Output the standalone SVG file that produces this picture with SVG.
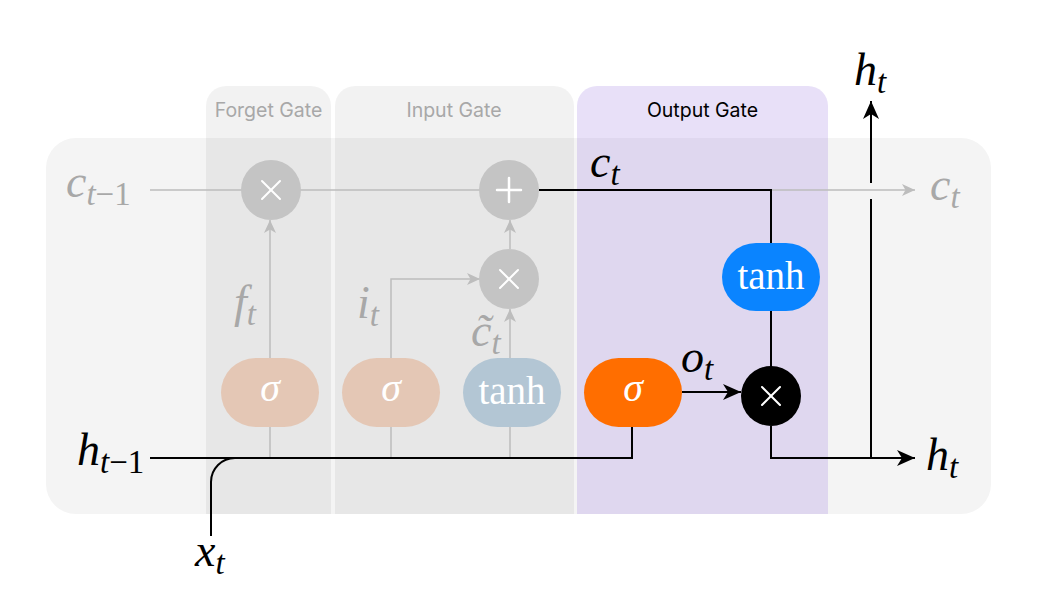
<svg xmlns="http://www.w3.org/2000/svg" width="1046" height="601" viewBox="0 0 1046 601">
<defs>
<style>
.hdr{font-family:Inter,"Liberation Sans",sans-serif;font-size:19.5px;text-anchor:middle}
.m{font-family:"Liberation Serif",serif;font-style:italic;font-size:46px}
.sub{font-size:33px}
.up{font-style:normal}
.g{fill:#a8a8a8}
.k{fill:#000}
.gl{stroke:#bdbdbd;stroke-width:1.5;fill:none}
.bl{stroke:#000;stroke-width:2;fill:none}
.op{fill:#c4c4c4}
.tanh{font-family:"Liberation Serif",serif;font-size:39px;fill:#fff;text-anchor:middle}
.sig{font-family:"Liberation Serif",serif;font-style:italic;font-size:40px;fill:#fff;text-anchor:middle}
.sym{stroke:#fff;stroke-width:2;stroke-linecap:round}
.gate{fill:#000;fill-opacity:0.05}
</style>
<marker id="ag" viewBox="0 0 13 13" refX="13" refY="6.5" markerWidth="13" markerHeight="13" markerUnits="userSpaceOnUse" orient="auto">
<path d="M0,0.5 L13,6.5 L0,12.5 L3.5,6.5 Z" fill="#bdbdbd"/>
</marker>
<marker id="ab" viewBox="0 0 18 18" refX="18" refY="9" markerWidth="18" markerHeight="18" markerUnits="userSpaceOnUse" orient="auto">
<path d="M0,1 L18,9 L0,17 L5,9 Z" fill="#000"/>
</marker>
<g id="times"><line class="sym" x1="-9" y1="-9" x2="9" y2="9"/><line class="sym" x1="-9" y1="9" x2="9" y2="-9"/></g>
<g id="plus"><line class="sym" x1="-12" y1="0" x2="12" y2="0" style="stroke-width:2.5"/><line class="sym" x1="0" y1="-12" x2="0" y2="12" style="stroke-width:2.5"/></g>
</defs>

<rect id="cell" x="46" y="138" width="945" height="376" rx="30" fill="#f4f4f4"/>

<g id="forget-gate">
<path class="gate" d="M206,514 V106 A20,20 0 0 1 226,86 H311 A20,20 0 0 1 331,106 V514 Z"/>
<text class="hdr g" x="268.5" y="117">Forget Gate</text>
</g>
<g id="input-gate">
<path class="gate" d="M335,514 V106 A20,20 0 0 1 355,86 H554 A20,20 0 0 1 574,106 V514 Z"/>
<text class="hdr g" x="454" y="117">Input Gate</text>
</g>
<g id="output-gate">
<path d="M577,514 V106 A20,20 0 0 1 597,86 H808 A20,20 0 0 1 828,106 V514 Z" fill="#8c64dc" fill-opacity="0.2"/>
<text class="hdr k" x="702.5" y="117">Output Gate</text>
</g>

<g id="connectors">
<line class="gl" x1="150" y1="190" x2="242" y2="190"/>
<line class="gl" x1="300" y1="190" x2="480" y2="190"/>
<line class="gl" x1="771" y1="190" x2="915" y2="190" marker-end="url(#ag)"/>
<line class="gl" x1="270" y1="358" x2="270" y2="220" marker-end="url(#ag)"/>
<line class="gl" x1="270" y1="427" x2="270" y2="458"/>
<polyline class="gl" points="391,358 391,279 480,279" marker-end="url(#ag)"/>
<line class="gl" x1="391" y1="427" x2="391" y2="458"/>
<line class="gl" x1="510" y1="358" x2="510" y2="309" marker-end="url(#ag)"/>
<line class="gl" x1="510" y1="427" x2="510" y2="458"/>
<line class="gl" x1="510" y1="249" x2="510" y2="220" marker-end="url(#ag)"/>
<polyline class="bl" points="539,190 771,190 771,243"/>
<line class="bl" x1="771" y1="311" x2="771" y2="367"/>
<polyline class="bl" points="150,458 632,458 632,427"/>
<path class="bl" d="M211,536 V482 A24,24 0 0 1 235,458"/>
<line class="bl" x1="682" y1="392" x2="741" y2="392" marker-end="url(#ab)"/>
<polyline class="bl" points="771,426 771,458 915,458" marker-end="url(#ab)"/>
<line class="bl" x1="871" y1="458" x2="871" y2="199"/>
<line class="bl" x1="871" y1="183" x2="871" y2="101" marker-end="url(#ab)"/>
</g>

<g id="forget-mult"><circle class="op" cx="271" cy="190" r="30"/><use href="#times" x="271" y="190"/></g>
<g id="add"><circle class="op" cx="509" cy="190" r="30"/><use href="#plus" x="509" y="190"/></g>
<g id="input-mult"><circle class="op" cx="509" cy="279" r="30"/><use href="#times" x="509" y="279"/></g>
<g id="output-mult"><circle fill="#000" cx="771" cy="396" r="30"/><use href="#times" x="771" y="396"/></g>

<g id="forget-sigma"><rect x="221" y="358" width="98" height="69" rx="34.5" fill="#e4c7b5"/><text class="sig" x="270" y="401">σ</text></g>
<g id="input-sigma"><rect x="342" y="358" width="98" height="69" rx="34.5" fill="#e4c7b5"/><text class="sig" x="391" y="401">σ</text></g>
<g id="cand-tanh"><rect x="463" y="358" width="98" height="69" rx="34.5" fill="#b3c6d4"/><text class="tanh" x="512" y="404">tanh</text></g>
<g id="output-sigma"><rect x="584" y="358" width="98" height="69" rx="34.5" fill="#ff6e00"/><text class="sig" x="633" y="401">σ</text></g>
<g id="cell-tanh"><rect x="722" y="243" width="98" height="68" rx="34" fill="#0a84ff"/><text class="tanh" x="771" y="289">tanh</text></g>

<g id="labels">
<text class="m g" x="66" y="197">c<tspan class="sub" dy="8">t</tspan><tspan class="sub up">−1</tspan></text>
<text class="m g" x="930" y="200">c<tspan class="sub" dy="8">t</tspan></text>
<text class="m k" x="590" y="177">c<tspan class="sub" dy="8">t</tspan></text>
<text class="m k" x="854" y="85">h<tspan class="sub" dy="8">t</tspan></text>
<text class="m k" x="926" y="470">h<tspan class="sub" dy="8">t</tspan></text>
<text class="m k" x="77" y="465">h<tspan class="sub" dy="8">t</tspan><tspan class="sub up">−1</tspan></text>
<text class="m k" x="195" y="566">x<tspan class="sub" dy="8">t</tspan></text>
<text class="m g" x="234" y="317">f<tspan class="sub" dy="8">t</tspan></text>
<text class="m g" x="357" y="318">i<tspan class="sub" dy="8">t</tspan></text>
<text class="m g" x="471" y="346">c̃<tspan class="sub" dy="8">t</tspan></text>
<text class="m k" x="681" y="372">o<tspan class="sub" dy="8">t</tspan></text>
</g>
</svg>
